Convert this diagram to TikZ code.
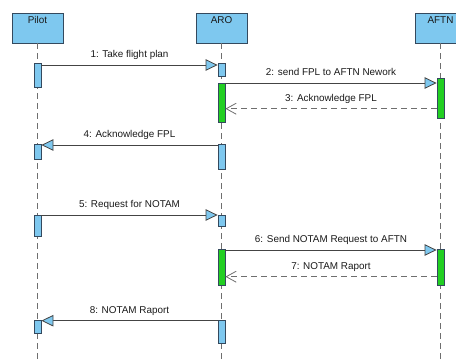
\documentclass[tikz,border=0pt]{standalone}
\usepackage{fontspec}
\setmainfont{Liberation Sans}
\usetikzlibrary{arrows.meta}

\definecolor{lifeblue}{HTML}{7EC8EF}
\definecolor{actgreen}{HTML}{22CF22}
\definecolor{edgedark}{HTML}{34495E}
\definecolor{linegray}{HTML}{444444}
\definecolor{dashgray}{HTML}{6E6E6E}
\definecolor{txt}{HTML}{1A1A1A}

\tikzset{
  lifebox/.style={draw=edgedark, line width=0.9pt, fill=lifeblue,
    minimum width=51pt, minimum height=30pt, inner sep=0pt},
  boxlabel/.style={anchor=north, yshift=-2.5pt, inner sep=1pt, text=txt,
    text height=7pt, text depth=2pt},
  lifeline/.style={draw=dashgray, line width=0.8pt, dash pattern=on 6pt off 4pt},
  act/.style={draw=edgedark, line width=0.8pt, fill=lifeblue,
    minimum width=7pt, inner sep=0pt, anchor=north},
  actg/.style={act, fill=actgreen},
  msg/.style={draw=linegray, line width=0.8pt,
    -{Triangle[length=12pt, width=11.5pt, fill=lifeblue]}},
  reply/.style={draw=dashgray, line width=0.8pt, dash pattern=on 6pt off 4pt,
    -{Straight Barb[length=10pt, width=11pt]}},
  msglabel/.style={midway, yshift=10pt, inner sep=1pt, text=txt,
    text height=7pt, text depth=2pt}
}

\begin{document}
\begin{tikzpicture}[x=1pt, y=-1pt, font=\fontsize{9.9}{11}\selectfont]
\useasboundingbox (0,0) rectangle (456,360);
\clip (0,0) rectangle (456,360);

% lifeline heads
\node[lifebox] (pilot) at (37.5,28) {};
\node[lifebox] (aro)   at (221.5,28) {};
\node[lifebox] (aftn)  at (440.5,28) {};
\node[boxlabel] (pilotname) at (pilot.north) {Pilot};
\node[boxlabel] (aroname)   at (aro.north) {ARO};
\node[boxlabel] (aftnname)  at (aftn.north) {AFTN};

% dashed lifelines
\coordinate (pilotend) at (37.5,362);
\coordinate (aroend)   at (221.5,362);
\coordinate (aftnend)  at (440.5,362);
\draw[lifeline] (pilot.south) -- (pilotend);
\draw[lifeline] (aro.south) -- (aroend);
\draw[lifeline] (aftn.south) -- (aftnend);

% activation bars: Pilot
\node[act, minimum height=24pt] (p1) at (37.5,63) {};
\node[act, minimum height=15pt] (p2) at (37.5,144) {};
\node[act, minimum height=21pt] (p3) at (37.5,215) {};
\node[act, minimum height=13pt] (p4) at (37.5,320) {};
% activation bars: ARO
\node[act,  minimum height=13pt] (a1) at (221.5,63) {};
\node[actg, minimum height=39pt] (a2) at (221.5,83) {};
\node[act,  minimum height=25pt] (a3) at (221.5,144) {};
\node[act,  minimum height=11pt] (a4) at (221.5,215) {};
\node[actg, minimum height=36pt] (a5) at (221.5,249) {};
\node[act,  minimum height=23pt] (a6) at (221.5,320) {};
% activation bars: AFTN
\node[actg, minimum height=40pt] (f1) at (440.5,78) {};
\node[actg, minimum height=36pt] (f2) at (440.5,249) {};

% messages
\draw[msg] (p1.east |- 0,65) -- node[msglabel] (t1) {1: Take flight plan} (a1.west |- 0,65);
\draw[msg] (a2.east |- 0,83) -- node[msglabel] (t2) {2: send FPL to AFTN Nework} (f1.west |- 0,83);
\draw[reply] (f1.west |- 0,108.7) -- node[msglabel] (t3) {3: Acknowledge FPL} (a2.east |- 0,108.7);
\draw[msg] (a3.west |- 0,145) -- node[msglabel] (t4) {4: Acknowledge FPL} (p2.east |- 0,145);
\draw[msg] (p3.east |- 0,215) -- node[msglabel] (t5) {5: Request for NOTAM} (a4.west |- 0,215);
\draw[msg] (a5.east |- 0,250) -- node[msglabel] (t6) {6: Send NOTAM Request to AFTN} (f2.west |- 0,250);
\draw[reply] (f2.west |- 0,276.7) -- node[msglabel] (t7) {7: NOTAM Raport} (a5.east |- 0,276.7);
\draw[msg] (a6.west |- 0,320.7) -- node[msglabel] (t8) {8: NOTAM Raport} (p4.east |- 0,320.7);
\end{tikzpicture}
\end{document}
